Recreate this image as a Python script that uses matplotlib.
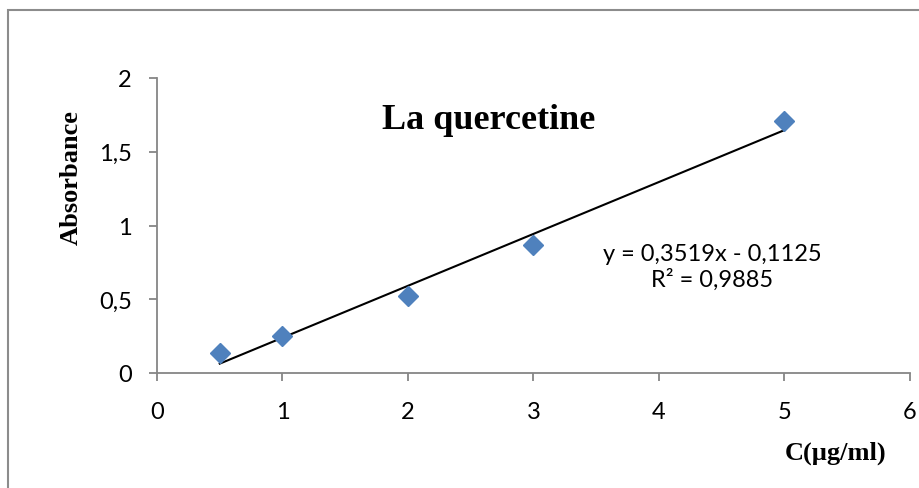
import numpy as np
import matplotlib
matplotlib.use("Agg")
import matplotlib.pyplot as plt
from matplotlib.patches import Rectangle

conc = [0.5, 1, 2, 3, 5]
absorb = [0.135, 0.25, 0.525, 0.87, 1.71]
slope = 0.3519
intercept = -0.1125
xticks = [0, 1, 2, 3, 4, 5, 6]
yticks = [0, 0.5, 1, 1.5, 2]
ytick_labels = ["0", "0,5", "1", "1,5", "2"]

fig = plt.figure(figsize=(9.2, 4.89), dpi=100)
ax = fig.add_axes([157/920, 1 - 374/489, 753/920, 295/489])

# chart border
fig.patches.append(Rectangle((8/920, -0.1), 1.1, 1 - 11/489 + 0.1,
                             transform=fig.transFigure, fill=False,
                             edgecolor="#8c8c8c", linewidth=1.5))

ax.plot(conc, absorb, "D", color="#4F81BD", markersize=10.5, zorder=3, clip_on=False)
xfit = np.array([conc[0], conc[-1]])
ax.plot(xfit, slope*xfit + intercept, color="black", linewidth=1.5, zorder=2)

ax.set_xlim(0, 6)
ax.set_ylim(0, 2)
ax.set_xticks(xticks)
ax.set_yticks(yticks)
ax.set_yticklabels(ytick_labels)
for s in ["top", "right"]:
    ax.spines[s].set_visible(False)
for s in ["left", "bottom"]:
    ax.spines[s].set_color("#868686")
    ax.spines[s].set_linewidth(1.3)
ax.tick_params(axis="both", direction="out", length=6, width=1.3, color="#868686",
               labelsize=17)
ax.tick_params(axis="x", pad=14)
ax.tick_params(axis="y", pad=12)
for lab in ax.get_xticklabels() + ax.get_yticklabels():
    lab.set_fontfamily("Lato")

ax.text(0.44, 0.86, "La quercetine", transform=ax.transAxes, ha="center", va="center",
        fontsize=26, fontweight="bold", fontfamily="Liberation Serif")
ax.text(0.737, 0.362, "y = 0,3519x - 0,1125\nR² = 0,9885", transform=ax.transAxes,
        ha="center", va="center", fontsize=17, fontfamily="Lato", linespacing=1.2)

fig.text(71/920, 1 - 178/489, "Absorbance", rotation=90, ha="center", va="center",
         fontsize=19, fontweight="bold", fontfamily="Liberation Serif")
fig.text(836/920, 1 - 453/489, "C(µg/ml)", ha="center", va="center",
         fontsize=19, fontweight="bold", fontfamily="Liberation Serif")

fig.savefig("out.png", dpi=100)
